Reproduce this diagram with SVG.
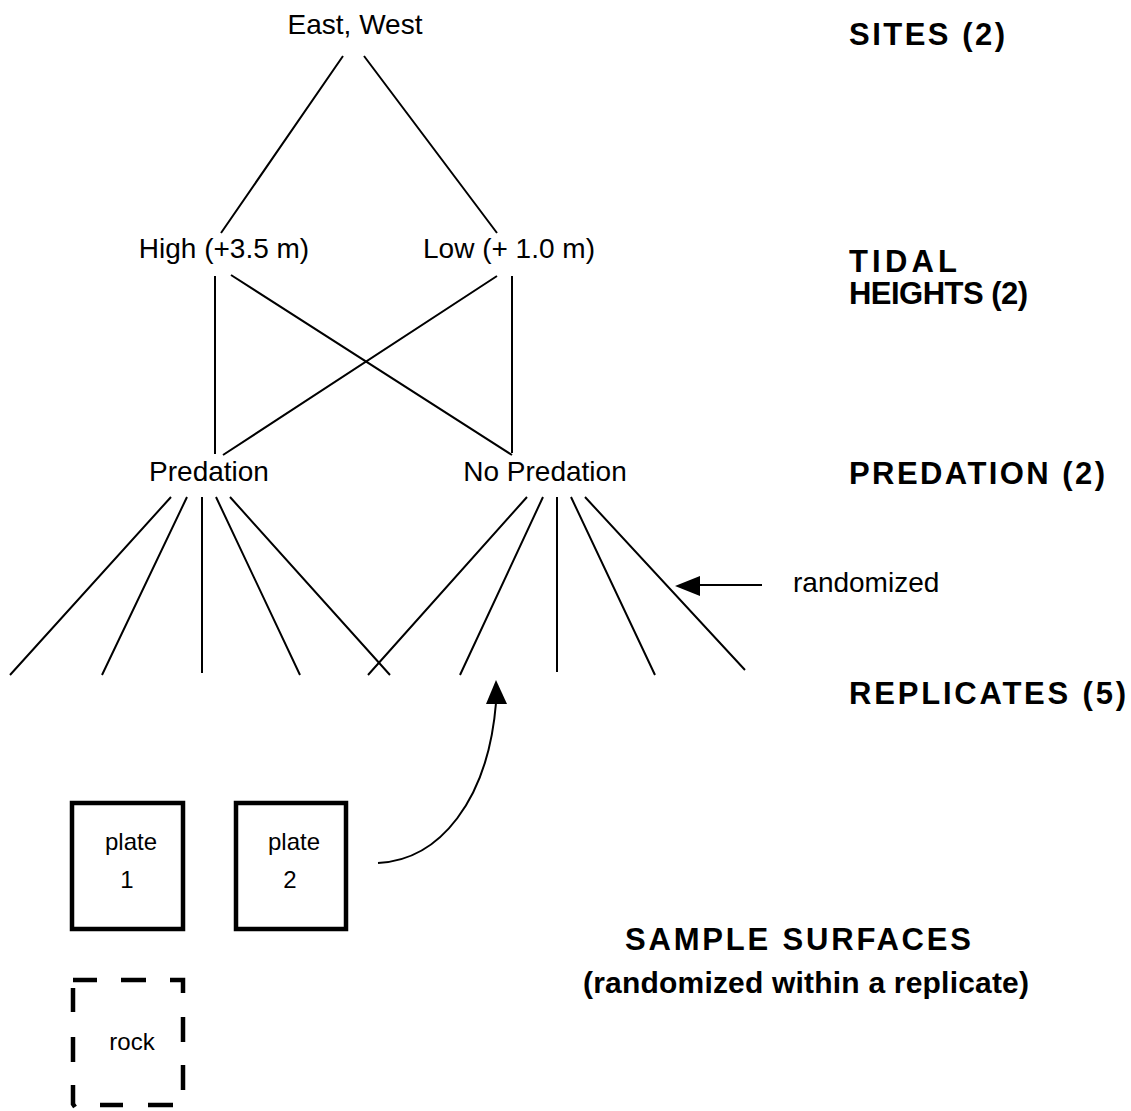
<svg xmlns="http://www.w3.org/2000/svg" width="1131" height="1111" viewBox="0 0 1131 1111">
<style>
.t{font-family:"Liberation Sans",Arial,sans-serif;font-size:28px;fill:#000}
.s{font-family:"Liberation Sans",Arial,sans-serif;font-size:24px;fill:#000}
.b{font-family:"Liberation Sans",Arial,sans-serif;font-size:31px;font-weight:bold;fill:#000}
.ln{stroke:#000;stroke-width:2;fill:none}
.box{stroke:#000;stroke-width:4.5;fill:none}
</style>
<rect width="1131" height="1111" fill="#fff"/>

<g id="connectors">
<path class="ln" d="M343,56 L221,233 M364,56 L497,233"/>
<path class="ln" d="M215,276 L215,454 M231,275 L512,455 M497,276 L223,455 M512,276 L512,453"/>
<path class="ln" d="M171,497 L10,675 M187,497 L102,675 M202,497 L202,673 M216,497 L300,675 M230,497 L390,675"/>
<path class="ln" d="M527,497 L368,675 M543,497 L460,675 M557,497 L557,672 M571,497 L655,675 M585,497 L745,670"/>
<path class="ln" d="M762,585 L695,585"/>
<path d="M675,586 L700,576 L700,596 Z" fill="#000"/>
<path class="ln" d="M378,863 C440,860 488,800 496,703"/>
<path d="M496,680 L486,704 L507,704 Z" fill="#000"/>
</g>

<g id="sites"><text class="t" x="355" y="34" text-anchor="middle">East, West</text></g>
<g id="high"><text class="t" x="224" y="258" text-anchor="middle">High (+3.5 m)</text></g>
<g id="low"><text class="t" x="509" y="258" text-anchor="middle">Low (+ 1.0 m)</text></g>
<g id="predation"><text class="t" x="209" y="481" text-anchor="middle">Predation</text></g>
<g id="nopredation"><text class="t" x="545" y="481" text-anchor="middle">No Predation</text></g>
<g id="randomized"><text class="t" x="793" y="592">randomized</text></g>

<g id="labels">
<text class="b" x="849" y="45" textLength="156" lengthAdjust="spacing">SITES (2)</text>
<text class="b" x="849" y="272" textLength="108" lengthAdjust="spacing">TIDAL</text>
<text class="b" x="849" y="304" textLength="179" lengthAdjust="spacing">HEIGHTS (2)</text>
<text class="b" x="849" y="484" textLength="256" lengthAdjust="spacing">PREDATION (2)</text>
<text class="b" x="849" y="704" textLength="277" lengthAdjust="spacing">REPLICATES (5)</text>
<text class="b" x="625" y="950" textLength="346" lengthAdjust="spacing">SAMPLE SURFACES</text>
<text class="b" x="583" y="993" textLength="446" lengthAdjust="spacing" style="font-size:30px">(randomized within a replicate)</text>
</g>

<g id="plate1">
<rect class="box" x="72" y="803" width="111" height="126"/>
<text class="s" x="131" y="850" text-anchor="middle">plate</text>
<text class="s" x="127" y="888" text-anchor="middle">1</text>
</g>
<g id="plate2">
<rect class="box" x="236" y="803" width="110" height="126"/>
<text class="s" x="294" y="850" text-anchor="middle">plate</text>
<text class="s" x="290" y="888" text-anchor="middle">2</text>
</g>
<g id="rock">
<path class="box" d="M73,980 L97,980 M121,980 L146,980 M170,980 L183,980 L183,993 M183,1017 L183,1042 M183,1065 L183,1090 M100,1105 L123,1105 M148,1105 L173,1105 M73,988 L73,1012 M73,1037 L73,1062 M73,1085 L73,1104 L75,1107"/>
<text class="s" x="132" y="1050" text-anchor="middle">rock</text>
</g>
</svg>
